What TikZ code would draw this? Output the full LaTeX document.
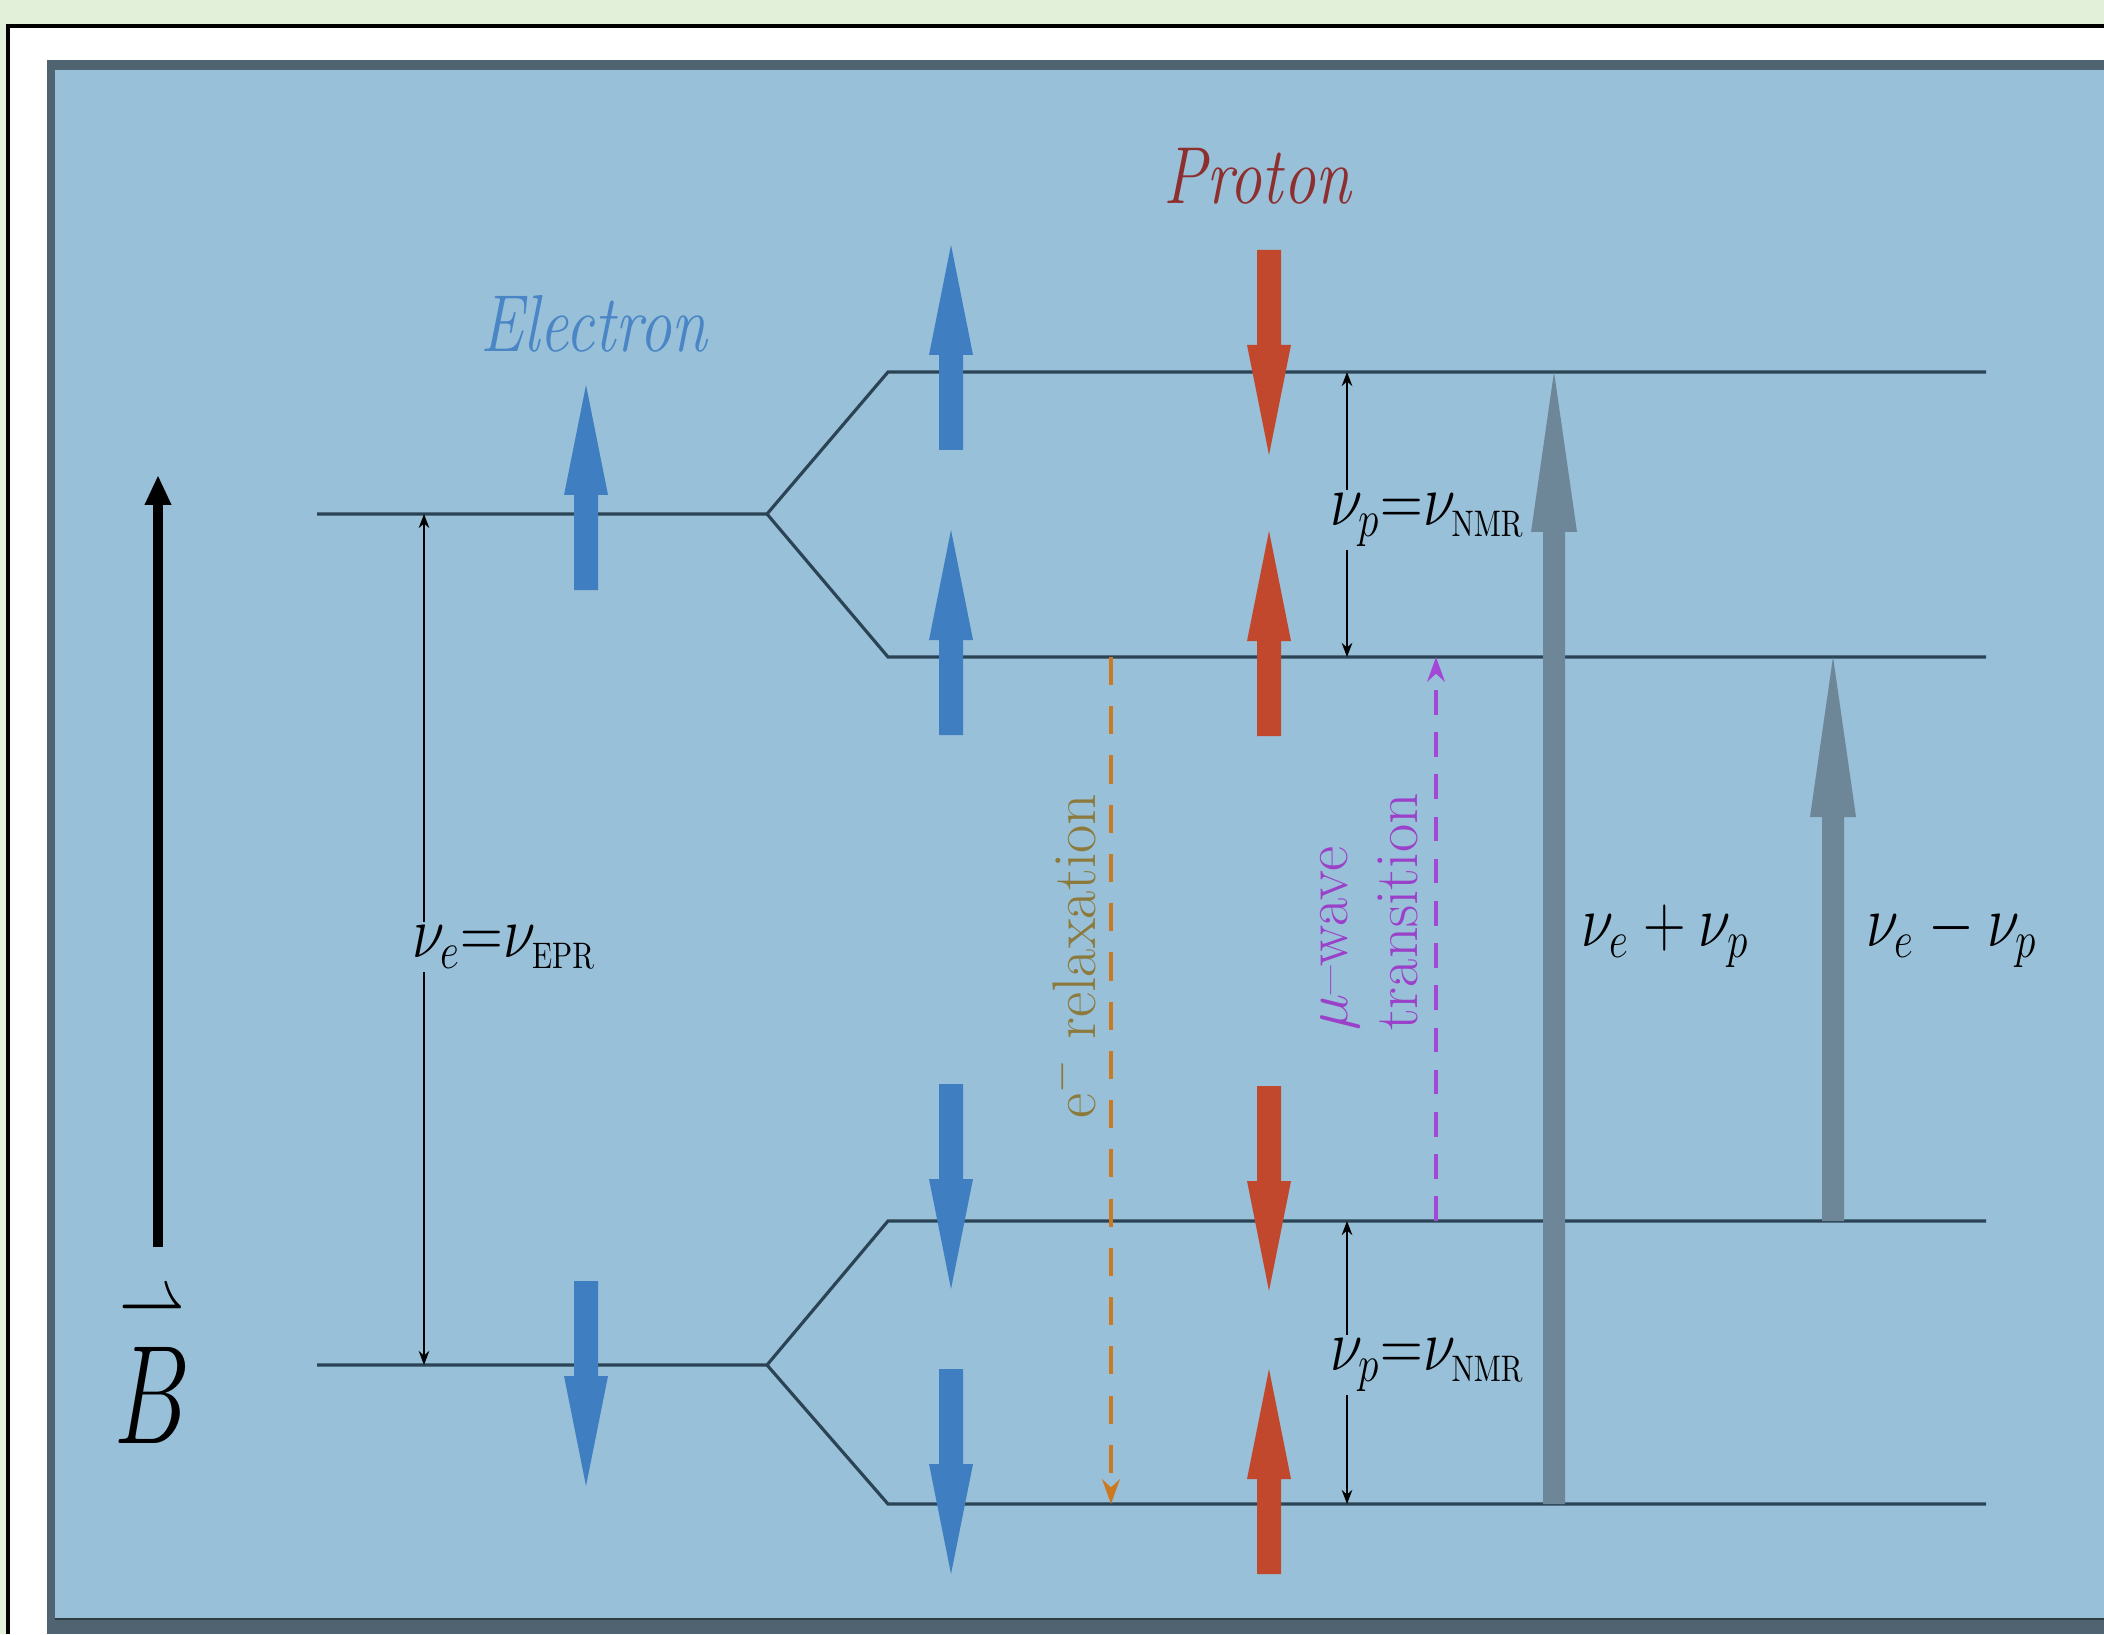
\RequirePackage{fix-cm}
\documentclass[tikz,border=0pt]{standalone}
\usepackage{amsmath, amssymb}
\usepackage{graphicx}
\usepackage{xcolor}
\usepackage{tikz}
\usetikzlibrary{arrows.meta}

\definecolor{pagegreen}{HTML}{E2EFD9}
\definecolor{panelblue}{HTML}{99C0D9}
\definecolor{panelrim}{HTML}{4F6470}
\definecolor{levelcol}{HTML}{2B4455}
\definecolor{arrowgray}{HTML}{6D8798}
\definecolor{spinblue}{HTML}{3E7EC1}
\definecolor{spinred}{HTML}{C1472D}
\definecolor{electroncol}{HTML}{4A86C5}
\definecolor{protoncol}{HTML}{8E2F2F}
\definecolor{relaxorange}{HTML}{CC7A22}
\definecolor{relaxtext}{HTML}{8C7A3C}
\definecolor{mwpurple}{HTML}{A347D6}
\definecolor{mwtext}{HTML}{9B40C8}

\newcommand{\narrow}[1]{\scalebox{0.8}[1]{#1}}

\begin{document}
\begin{tikzpicture}[x=0.01cm, y=-0.01cm,
  level/.style={draw=levelcol, line width=0.9pt},
  gap/.style={{Stealth[length=4pt,width=3pt]}-{Stealth[length=4pt,width=3pt]}, line width=0.6pt, black},
  pics/spin/.style={code={
    \fill[pic actions] (-12,0) -- (-12,-95) -- (-22,-95) -- (0,-205) -- (22,-95) -- (12,-95) -- (12,0) -- cycle;}},
  pics/beam/.style={code={
    \fill[pic actions] (-11,0) -- (-11,160-#1) -- (-23,160-#1) -- (0,-#1) -- (23,160-#1) -- (11,160-#1) -- (11,0) -- cycle;}},
  relaxarrow/.style={draw=relaxorange, line width=1.2pt, dash pattern=on 8pt off 6pt, -{Stealth[length=7pt,width=5pt]}},
  mwarrow/.style={draw=mwpurple, line width=1.2pt, dash pattern=on 7pt off 5pt, -{Stealth[length=7pt,width=5pt]}},
  freq/.style={font=\fontsize{21}{25}\selectfont, fill=panelblue, inner sep=1pt, anchor=base west},
  species/.style={font=\fontsize{23}{27}\selectfont\itshape, anchor=base},
  vlabel/.style={font=\fontsize{17.5}{20}\selectfont, rotate=90, inner sep=1pt}
]
  \useasboundingbox (0,0) rectangle (2104,1634);
  % frame and panel
  \fill[pagegreen] (0,0) rectangle (2104,1634);
  \fill[white] (8,26) rectangle (2104,1634);
  \draw[line width=1pt] (8,1634) -- (8,26) -- (2104,26);
  \fill[panelrim] (47,60) rectangle (2104,1634);
  \fill[panelblue] (55,70) rectangle (2104,1618);
  \draw[panelrim!60!black, line width=0.8pt] (55,1619) -- (2104,1619);

  % energy levels
  \coordinate (eUa) at (317,514);  \coordinate (eUb) at (767,514);
  \coordinate (eDa) at (317,1365); \coordinate (eDb) at (767,1365);
  \coordinate (L1a) at (888,372);  \coordinate (L1b) at (1986,372);
  \coordinate (L2a) at (888,657);  \coordinate (L2b) at (1986,657);
  \coordinate (L3a) at (888,1221); \coordinate (L3b) at (1986,1221);
  \coordinate (L4a) at (888,1504); \coordinate (L4b) at (1986,1504);
  \draw[level] (eUa) -- (eUb) -- (L1a) -- (L1b);
  \draw[level] (eUb) -- (L2a) -- (L2b);
  \draw[level] (eDa) -- (eDb) -- (L3a) -- (L3b);
  \draw[level] (eDb) -- (L4a) -- (L4b);

  % field
  \coordinate (Bfoot) at (158,1247);
  \coordinate (Btip) at (158,475);
  \draw[line width=3pt, -{Triangle[width=7pt,length=8.5pt]}] (Bfoot) -- (Btip);
  \node[font=\fontsize{40}{44}\selectfont, anchor=base, inner sep=0pt] (Blabel) at (152,1443)
    {\scalebox{0.68}[1]{$\overset{\raisebox{-9.5pt}[0pt][0pt]{$\scriptstyle\rightharpoonup$}}{B}$}};

  % species titles
  \node[species, text=electroncol] (electron) at (594,352) {\narrow{Electron}};
  \node[species, text=protoncol] (proton) at (1257,204) {\narrow{Proton}};

  % spin arrows
  \pic[fill=spinblue] at (586,590) {spin};
  \pic[fill=spinblue, rotate=180] at (586,1281) {spin};
  \pic[fill=spinblue] at (951,450) {spin};
  \pic[fill=spinblue] at (951,735) {spin};
  \pic[fill=spinblue, rotate=180] at (951,1084) {spin};
  \pic[fill=spinblue, rotate=180] at (951,1369) {spin};
  \pic[fill=spinred, rotate=180] at (1269,250) {spin};
  \pic[fill=spinred] at (1269,736) {spin};
  \pic[fill=spinred, rotate=180] at (1269,1086) {spin};
  \pic[fill=spinred] at (1269,1574) {spin};

  % splittings
  \coordinate (xEPR) at (424,0);
  \coordinate (xNMR) at (1347,0);
  \draw[gap] (xEPR |- eUa) -- (xEPR |- eDa);
  \draw[gap] (xNMR |- L1a) -- (xNMR |- L2a);
  \draw[gap] (xNMR |- L3a) -- (xNMR |- L4a);
  \node[freq] (epr) at (408,957) {\narrow{$\nu_e{=}\nu_{\scriptscriptstyle\mathrm{EPR}}$}};
  \node[freq] (nmrtop) at (1326,525) {\narrow{$\nu_p{=}\nu_{\scriptscriptstyle\mathrm{NMR}}$}};
  \node[freq] (nmrbot) at (1326,1370) {\narrow{$\nu_p{=}\nu_{\scriptscriptstyle\mathrm{NMR}}$}};

  % transitions
  \coordinate (xRelax) at (1111,0);
  \coordinate (xMw) at (1436,0);
  \draw[relaxarrow] (xRelax |- L2a) -- (xRelax |- L4a);
  \draw[mwarrow] (xMw |- L3a) -- (xMw |- L2a);
  \pic[fill=arrowgray] at (1554,1504) {beam=1132};
  \pic[fill=arrowgray] at (1833,1221) {beam=564};
  \node[vlabel, text=relaxtext] (relax) at (1072,956) {e$^-$ relaxation};
  \node[vlabel, text=mwtext, align=left] (mw) at (1369,912) {$\mu$--wave\\transition};
  \node[freq, fill=none] (sum) at (1577,946) {\narrow{$\nu_e+\nu_p$}};
  \node[freq, fill=none] (diff) at (1862,946) {\narrow{$\nu_e-\nu_p$}};
\end{tikzpicture}
\end{document}
